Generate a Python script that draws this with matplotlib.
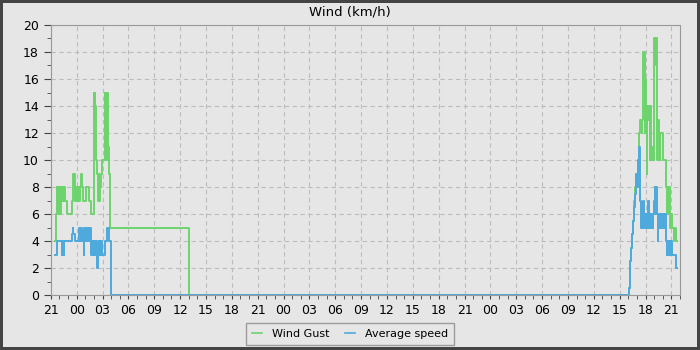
import matplotlib
matplotlib.use("Agg")
import matplotlib.pyplot as plt
from matplotlib.ticker import MultipleLocator, FuncFormatter

# hours since the first 21:00 on the axis, and value in km/h (step, post)
gust_t = [0.50, 0.56, 0.66, 0.72, 0.78, 0.84, 0.90, 0.96, 1.02, 1.08, 1.14, 1.20,
          1.26, 1.32, 1.38, 1.50, 1.56, 1.62, 1.70, 1.84, 2.42, 2.58, 2.66, 2.72,
          2.78, 2.86, 2.92, 3.00, 3.06, 3.14, 3.22, 3.30, 3.40, 3.50, 3.62, 3.70,
          4.10, 4.48, 4.70, 4.98, 5.04, 5.08, 5.12, 5.20, 5.40, 5.50, 5.56, 5.62,
          5.68, 5.80, 5.95, 6.25, 6.31, 6.37, 6.45, 6.55, 6.62, 6.72, 6.90, 16.0,
          67.05, 67.15, 67.25, 67.35, 67.45, 67.57, 67.70, 67.80, 67.95, 68.08,
          68.20, 68.30, 68.40, 68.55, 68.62, 68.74, 68.80, 68.84, 68.90, 68.96,
          69.06, 69.14, 69.22, 69.30, 69.36, 69.50, 69.56, 69.62, 69.72, 69.80,
          69.92, 70.04, 70.12, 70.18, 70.30, 70.36, 70.44, 70.56, 70.64, 70.70,
          70.98, 71.42, 71.48, 71.54, 71.60, 71.68, 71.80, 71.90, 72.00, 72.10,
          72.30, 72.40, 72.50, 72.70]
gust_v = [4, 6, 8, 7, 8, 6, 8, 6, 7, 6, 8, 7,
          8, 7, 8, 7, 8, 7, 7, 6, 7, 9, 8, 9,
          8, 7, 8, 7, 8, 7, 8, 7, 8, 9, 8, 7,
          8, 7, 6, 15, 13, 15, 14, 10, 9, 7, 9, 7,
          8, 9, 10, 15, 11, 15, 10, 15, 11, 9, 5, 0,
          0.5, 1.5, 2.5, 3.5, 4.5, 5.5, 7, 8, 9, 10,
          11, 12, 13, 12, 13, 18, 16, 18, 12, 16,
          14, 9, 14, 13, 14, 10, 14, 11, 10, 11,
          10, 19, 17, 19, 13, 10, 13, 12, 10, 12,
          10, 8, 6, 8, 6, 8, 6, 5, 6, 5,
          4, 5, 4, 4]

avg_t = [0.49, 0.68, 1.26, 1.32, 1.38, 1.45, 1.50, 1.56, 1.70, 2.45, 2.55, 2.62,
         2.75, 3.30, 3.36, 3.42, 3.48, 3.55, 3.62, 3.80, 3.85, 3.92, 4.00, 4.10,
         4.18, 4.26, 4.34, 4.42, 4.50, 4.62, 4.80, 4.92, 5.00, 5.06, 5.12, 5.18,
         5.24, 5.30, 5.36, 5.46, 5.52, 5.58, 5.64, 5.70, 5.76, 5.82, 5.88, 5.96,
         6.30, 6.55, 6.75, 6.94,
         67.05, 67.15, 67.25, 67.35, 67.45, 67.55, 67.65, 67.75, 67.85, 67.95,
         68.05, 68.12, 68.20, 68.28, 68.36, 68.42, 68.50, 68.56, 68.62, 68.68,
         68.74, 68.80, 68.86, 68.92, 68.98, 69.04, 69.10, 69.16, 69.24, 69.36,
         69.42, 69.50, 69.56, 69.62, 69.68, 69.74, 69.80, 69.86, 69.92, 70.00,
         70.06, 70.12, 70.18, 70.30, 70.40, 70.50, 70.56, 70.62, 70.70, 70.76,
         70.84, 70.90, 70.98, 71.06, 71.14, 71.30, 71.42, 71.48, 71.54, 71.60,
         71.68, 71.76, 71.84, 71.92, 72.00, 72.10, 72.55, 72.70]
avg_v = [3, 4, 3, 4, 3, 4, 3, 4, 4, 4.5, 5, 4.5,
         4, 5, 4, 5, 4, 5, 4, 3, 5, 4, 5, 4,
         5, 4, 5, 4, 5, 3, 4, 3, 4, 3, 4, 3,
         4, 3, 2, 3, 4, 3, 4, 3, 4, 3, 4, 3,
         4, 5, 4, 0,
         0.5, 1.5, 2.5, 3.5, 4.5, 5.5, 6.5, 7.5, 8, 9,
         8, 10, 9, 11, 7, 7, 5, 6, 5, 6,
         7, 5, 6, 5, 6, 5, 6, 5, 7, 5,
         6, 5, 6, 5, 6, 5, 6, 5, 6, 7,
         8, 6, 8, 6, 4, 6, 5, 6, 5, 6,
         5, 6, 5, 6, 5, 6, 4, 3, 4, 3,
         4, 3, 4, 3, 4, 3, 2, 2]

bg = "#e6e6e6"
fig = plt.figure(figsize=(7, 3.5), dpi=100, facecolor=bg)
fig.patch.set_edgecolor("#444444")
fig.patch.set_linewidth(3)
ax = fig.add_axes([0.0726, 0.157, 0.8988, 0.7716], facecolor=bg)

ax.step(gust_t, gust_v, where="post", color="#6dd46d", lw=1.4, label="Wind Gust")
ax.step(avg_t, avg_v, where="post", color="#4ea9dc", lw=1.4, label="Average speed")

ax.set_xlim(0, 73)
ax.set_ylim(0, 20)
ax.xaxis.set_major_locator(MultipleLocator(3))
ax.xaxis.set_minor_locator(MultipleLocator(1))
ax.xaxis.set_major_formatter(FuncFormatter(lambda x, p: "%02d" % ((int(round(x)) + 21) % 24)))
ax.yaxis.set_major_locator(MultipleLocator(2))
ax.yaxis.set_minor_locator(MultipleLocator(1))
ax.grid(True, which="major", color="#bcbcbc", linestyle=(0, (4, 3)), lw=0.8)
for s in ax.spines.values():
    s.set_color("#999999")
ax.tick_params(which="both", colors="#444444", labelcolor="black", labelsize=9)
ax.tick_params(axis="x", which="both", length=3)
ax.tick_params(axis="y", which="major", length=5)
ax.tick_params(axis="y", which="minor", length=3)

fig.text(0.5, 0.966, "Wind (km/h)", ha="center", va="center", fontsize=9.5)
leg = fig.legend(loc="upper center", bbox_to_anchor=(0.5, 1 - 323 / 350), ncol=2, fontsize=8,
                 frameon=True, fancybox=False, handlelength=0.9, handletextpad=0.9,
                 columnspacing=1.4, borderpad=0.55, borderaxespad=0)
leg.get_frame().set_edgecolor("#888888")
leg.get_frame().set_facecolor(bg)
for h in leg.get_lines():
    h.set_linewidth(1.2)

fig.savefig("out.png", dpi=100, facecolor=bg, edgecolor="#444444")
